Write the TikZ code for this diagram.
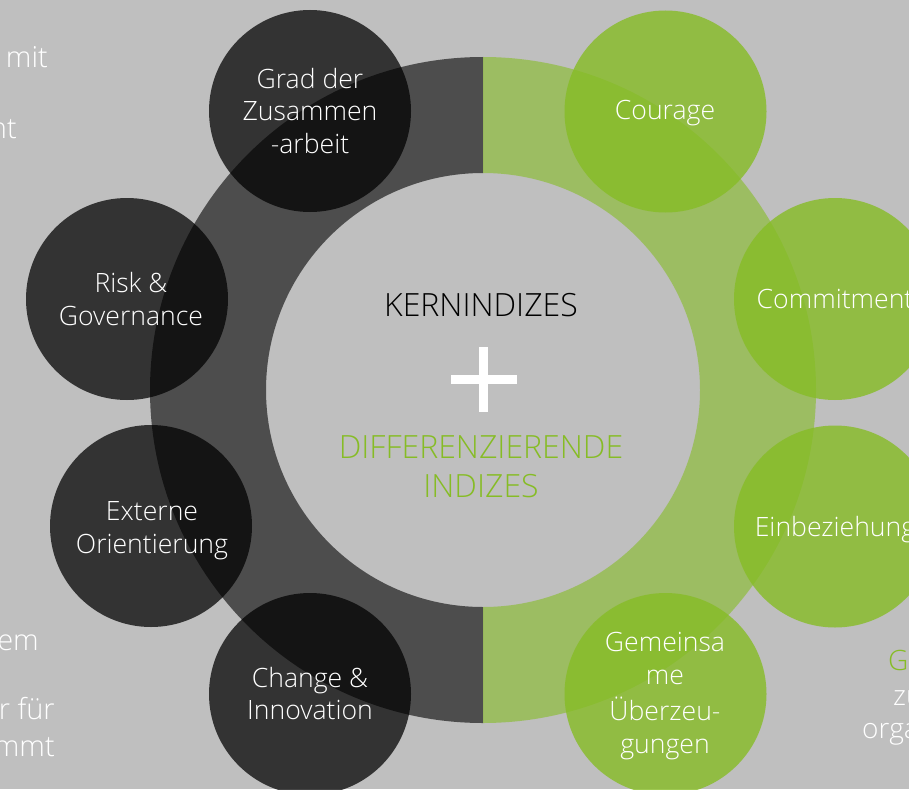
\documentclass[tikz,border=0pt]{standalone}
\usepackage{fontspec}
\IfFontExistsTF{Open Sans Light}
  {\setmainfont{Open Sans Light}}
  {\setmainfont{Open Sans}}
\definecolor{bggray}{HTML}{BFBFBF}
\definecolor{ringdark}{HTML}{4D4D4D}
\definecolor{dgreen}{HTML}{86BC25}
\begin{document}
\begin{tikzpicture}[x=1pt,y=-1pt,
  dcirc/.style={circle,fill=black,fill opacity=0.73,minimum size=202pt,inner sep=0pt},
  gcirc/.style={circle,fill=dgreen,fill opacity=0.8,minimum size=202pt,inner sep=0pt},
  lbl/.style={text=white,font=\fontsize{26.6}{31}\selectfont,anchor=base,inner sep=0pt},
  edgetxt/.style={text=white,font=\fontsize{29}{34}\selectfont,inner sep=0pt},
  title/.style={font=\fontsize{32}{38}\selectfont,anchor=base,inner sep=0pt}]
\useasboundingbox (0,0) rectangle (909,789);
\fill[bggray] (0,0) rectangle (909,789);
\clip (0,0) rectangle (909,789);

% ring: dark left half, translucent green right half
\fill[ringdark] (483,57) arc[start angle=90,end angle=270,radius=333pt]
  -- (483,607) arc[start angle=270,end angle=90,radius=217pt] -- cycle;
\fill[dgreen,fill opacity=0.6] (483,57) arc[start angle=90,end angle=-90,radius=333pt]
  -- (483,607) arc[start angle=-90,end angle=90,radius=217pt] -- cycle;

% index circles
\node[dcirc] (grad)   at (310,111) {};
\node[dcirc] (risk)   at (127,299) {};
\node[dcirc] (extern) at (151,526) {};
\node[dcirc] (change) at (310,694) {};
\node[gcirc] (courage) at (665.5,111.5) {};
\node[gcirc] (commit)  at (835,299) {};
\node[gcirc] (einbez)  at (835,526.5) {};
\node[gcirc] (gemein)  at (665.5,694) {};

% circle labels
\node[lbl] (grad1) at (310,89) {Grad der};
\node[lbl] (grad2) at (310,121) {Zusammen};
\node[lbl] (grad3) at (310,153) {-arbeit};
\node[lbl] (risk1) at (131,292) {Risk \&};
\node[lbl] (risk2) at (131,325) {Governance};
\node[lbl] (ext1) at (152,520) {Externe};
\node[lbl] (ext2) at (152,553) {Orientierung};
\node[lbl] (chg1) at (310,687) {Change \&};
\node[lbl] (chg2) at (310,719) {Innovation};
\node[lbl] (cour1) at (665,120) {Courage};
\node[lbl] (com1) at (835,308) {Commitment};
\node[lbl] (ein1) at (835,536) {Einbeziehung};
\node[lbl] (gem1) at (665,651) {Gemeinsa};
\node[lbl] (gem2) at (665,684) {me};
\node[lbl] (gem3) at (665,720) {Überzeu-};
\node[lbl] (gem4) at (665,753) {gungen};

% centre text
\node[title,text=black] (kern) at (481,316) {KERNINDIZES};
\fill[white] (451,375) rectangle (517,383.5);
\fill[white] (479.3,347) rectangle (488.3,412);
\node[title,text=dgreen] (diff1) at (481,458) {DIFFERENZIERENDE};
\node[title,text=dgreen] (diff2) at (481,497) {INDIZES};

% neighbouring text at the edges
\node[edgetxt,anchor=base east] (l1) at (48,68) {mit};
\node[edgetxt,anchor=base east] (l2) at (17,138) {nt};
\node[edgetxt,anchor=base east] (l3) at (39,650) {em};
\node[edgetxt,anchor=base east] (l4) at (55,719) {r für};
\node[edgetxt,anchor=base east] (l5) at (55,756) {mmt};
\node[edgetxt,anchor=base west,text=dgreen,font=\fontsize{28}{34}\selectfont] (r1) at (888,670) {G};
\node[edgetxt,anchor=base west,font=\fontsize{28}{34}\selectfont] (r2) at (893,705) {zu};
\node[edgetxt,anchor=base west,font=\fontsize{28}{34}\selectfont] (r3) at (862,738) {orga};
\end{tikzpicture}
\end{document}
